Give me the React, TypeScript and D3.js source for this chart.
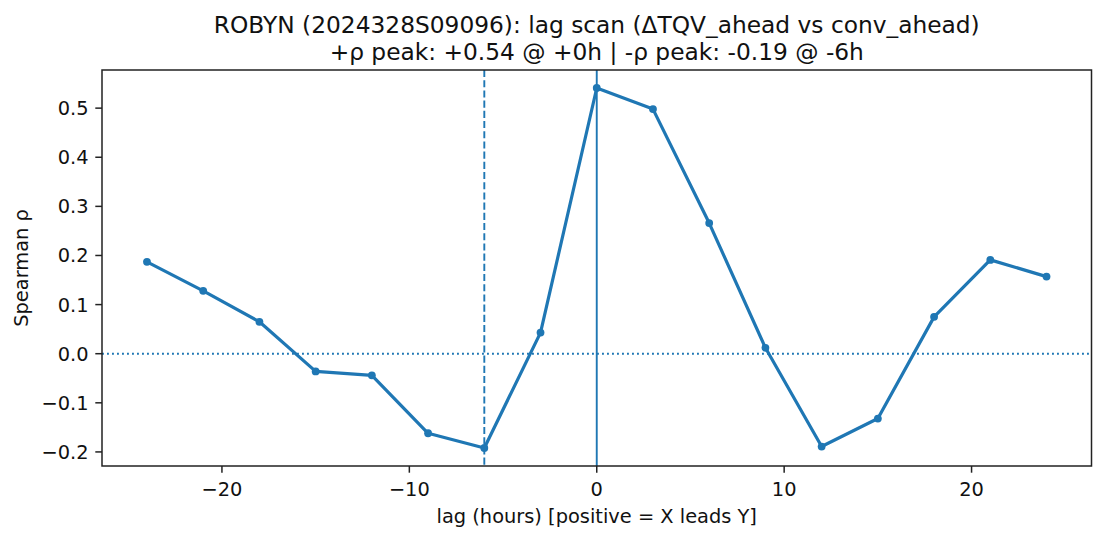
import React from "react";
import * as d3 from "d3";

const lags = [-24, -21, -18, -15, -12, -9, -6, -3, 0, 3, 6, 9, 12, 15, 18, 21, 24];
const rho = [0.187, 0.128, 0.065, -0.036, -0.044, -0.162, -0.192, 0.043, 0.541, 0.498, 0.266, 0.012, -0.189, -0.132, 0.075, 0.191, 0.157];
const xTicks = [-20, -10, 0, 10, 20];
const yTicks = [-0.2, -0.1, 0.0, 0.1, 0.2, 0.3, 0.4, 0.5];
const posPeakLag = 0;
const negPeakLag = -6;
const titleLines = [
  "ROBYN (2024328S09096): lag scan (ΔTQV_ahead vs conv_ahead)",
  "+ρ peak: +0.54 @ +0h | -ρ peak: -0.19 @ -6h",
];

const W = 1105, H = 540;
const L = 102, R = 1091.5, T = 70, B = 466;
const C = "#1f77b4";
const FONT = "DejaVu Sans, sans-serif";
const FS = 19.4;
const TFS = 23.3;

export default function App() {
  const xMin = d3.min(lags)!, xMax = d3.max(lags)!;
  const yMin = d3.min(rho)!, yMax = d3.max(rho)!;
  const xm = (xMax - xMin) * 0.05, ym = (yMax - yMin) * 0.05;
  const x = d3.scaleLinear().domain([xMin - xm, xMax + xm]).range([L, R]);
  const y = d3.scaleLinear().domain([yMin - ym, yMax + ym]).range([B, T]);
  const line = d3.line<number>().x((_, i) => x(lags[i])).y((d) => y(d));
  const cx = (L + R) / 2;
  return (
    <svg width={W} height={H} style={{ position: "absolute", left: 0, top: 0, background: "#fff" }} fontFamily={FONT}>
      <rect x={0} y={0} width={W} height={H} fill="#fff" />
      {/* reference lines */}
      <line x1={L} x2={R} y1={y(0)} y2={y(0)} stroke={C} strokeWidth={1.9} strokeDasharray="1.9 3.1" />
      <line x1={x(posPeakLag)} x2={x(posPeakLag)} y1={T} y2={B} stroke={C} strokeWidth={1.9} />
      <line x1={x(negPeakLag)} x2={x(negPeakLag)} y1={T} y2={B} stroke={C} strokeWidth={1.9} strokeDasharray="7.1 3.1" />
      <path d={line(rho) || ""} fill="none" stroke={C} strokeWidth={3.2} strokeLinejoin="round" strokeLinecap="round" />
      {rho.map((v, i) => (
        <circle key={i} cx={x(lags[i])} cy={y(v)} r={3.9} fill={C} />
      ))}
      <rect x={L} y={T} width={R - L} height={B - T} fill="none" stroke="#222" strokeWidth={1.5} />
      {xTicks.map((t) => (
        <g key={t}>
          <line x1={x(t)} x2={x(t)} y1={B} y2={B + 6.7} stroke="#222" strokeWidth={1.5} />
          <text x={x(t)} y={496} textAnchor="middle" fontSize={FS} fill="#111">
            {t < 0 ? "\u2212" + Math.abs(t) : String(t)}
          </text>
        </g>
      ))}
      {yTicks.map((t) => (
        <g key={t}>
          <line x1={L - 6.7} x2={L} y1={y(t)} y2={y(t)} stroke="#222" strokeWidth={1.5} />
          <text x={L - 13.4} y={y(t)} dy="0.36em" textAnchor="end" fontSize={FS} fill="#111">
            {t < 0 ? "\u2212" + Math.abs(t).toFixed(1) : t.toFixed(1)}
          </text>
        </g>
      ))}
      <text x={cx} y={523} textAnchor="middle" fontSize={FS} fill="#111">
        lag (hours) [positive = X leads Y]
      </text>
      <text transform={`translate(27.5,${(T + B) / 2}) rotate(-90)`} textAnchor="middle" fontSize={FS} fill="#111">
        Spearman ρ
      </text>
      {titleLines.map((s, i) => (
        <text key={i} x={cx} y={32.5 + i * 27.5} textAnchor="middle" fontSize={TFS} fill="#111">
          {s}
        </text>
      ))}
    </svg>
  );
}
